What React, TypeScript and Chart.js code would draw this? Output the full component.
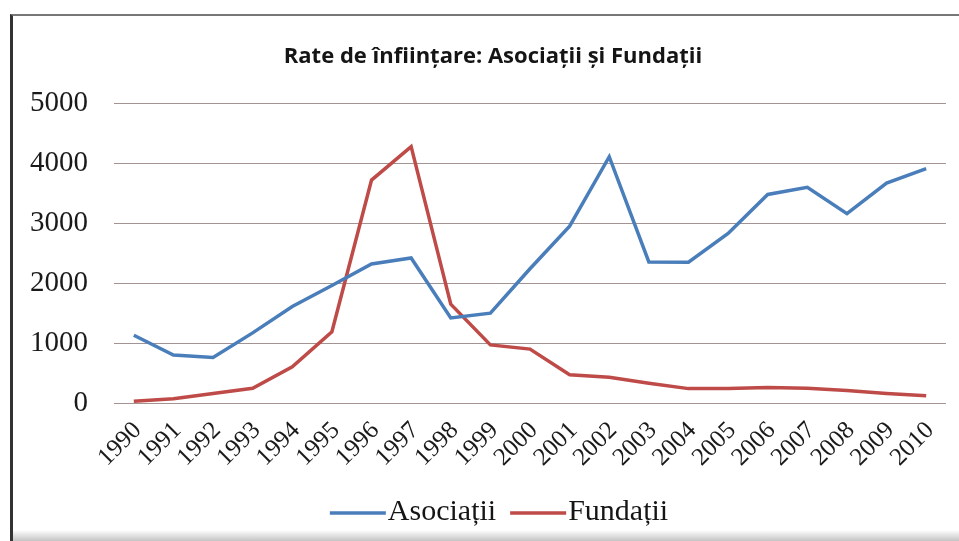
import React, { useEffect, useRef } from "react";
import { Chart, registerables } from "chart.js";

Chart.register(...registerables);

const years = [
  "1990", "1991", "1992", "1993", "1994", "1995", "1996", "1997", "1998", "1999", "2000",
  "2001", "2002", "2003", "2004", "2005", "2006", "2007", "2008", "2009", "2010",
];
const asociatii = [
  1130, 800, 760, 1170, 1610, 1960, 2320, 2420, 1420, 1500, 2240,
  2950, 4110, 2355, 2350, 2830, 3480, 3600, 3160, 3670, 3910,
];
const fundatii = [
  30, 70, 160, 245, 605, 1190, 3720, 4280, 1650, 970, 900,
  470, 430, 330, 240, 240, 260, 245, 210, 160, 120,
];
const yTicks = [0, 1000, 2000, 3000, 4000, 5000];
const titleText = "Rate de înființare: Asociații și Fundații";
const seriesNames = ["Asociații", "Fundații"];
const seriesColors = ["#4a7ebb", "#be4b48"];

const SERIF = "'Liberation Serif', 'Times New Roman', serif";

// legend drawn close to the line sample, as in the reference
const legendPlugin = {
  id: "tightLegend",
  afterDraw(chart: any) {
    const ctx = chart.ctx as CanvasRenderingContext2D;
    const datasets = chart.data.datasets;
    const lineW = 56;
    const gap = 2;
    const itemGap = 14;
    const cy = 512;
    ctx.save();
    ctx.font = `30px ${SERIF}`;
    const widths = datasets.map((d: any) => ctx.measureText(d.label).width);
    let total = 0;
    widths.forEach((w: number, i: number) => {
      total += lineW + gap + w + (i < widths.length - 1 ? itemGap : 0);
    });
    let x = 499 - total / 2;
    datasets.forEach((d: any, i: number) => {
      ctx.strokeStyle = d.borderColor;
      ctx.lineWidth = 3.5;
      ctx.beginPath();
      ctx.moveTo(x, cy + 1);
      ctx.lineTo(x + lineW, cy + 1);
      ctx.stroke();
      ctx.fillStyle = "#151515";
      ctx.textBaseline = "middle";
      ctx.textAlign = "left";
      ctx.fillText(d.label, x + lineW + gap, cy);
      x += lineW + gap + widths[i] + itemGap;
    });
    ctx.restore();
  },
};

export default function App() {
  const ref = useRef<HTMLCanvasElement | null>(null);

  useEffect(() => {
    if (!ref.current) return;
    const chart = new Chart(ref.current, {
      type: "line",
      data: {
        labels: years,
        datasets: [
          {
            label: seriesNames[0],
            data: asociatii,
            borderColor: seriesColors[0],
            backgroundColor: seriesColors[0],
            borderWidth: 3.5,
            pointRadius: 0,
            tension: 0,
          },
          {
            label: seriesNames[1],
            data: fundatii,
            borderColor: seriesColors[1],
            backgroundColor: seriesColors[1],
            borderWidth: 3.5,
            pointRadius: 0,
            tension: 0,
          },
        ],
      },
      plugins: [legendPlugin],
      options: {
        animation: false,
        responsive: true,
        maintainAspectRatio: false,
        layout: { padding: { left: 27, right: 0, top: 0, bottom: 53.5 } },
        scales: {
          x: {
            offset: true,
            grid: { display: false },
            border: { display: false },
            ticks: {
              autoSkip: false,
              minRotation: 45,
              maxRotation: 45,
              padding: 5,
              labelOffset: 4,
              color: "#1a1a1a",
              font: { family: SERIF, size: 25 },
            },
            afterFit: (axis: any) => {
              axis.height = 84.5;
            },
          },
          y: {
            min: 0,
            max: 5000,
            afterBuildTicks: (axis: any) => {
              axis.ticks = yTicks.map((v) => ({ value: v }));
            },
            grid: { color: "#a39393", drawTicks: false, lineWidth: 1 },
            border: { display: false },
            ticks: {
              padding: 26,
              color: "#1a1a1a",
              font: { family: SERIF, size: 29 },
              callback: (v: any) => String(v),
            },
            afterFit: (axis: any) => {
              axis.width = 87;
            },
          },
          // empty spacer on the right so that the title centres like the reference
          yRight: {
            position: "right",
            display: true,
            grid: { display: false },
            border: { display: false },
            ticks: { display: false },
            afterFit: (axis: any) => {
              axis.width = 13;
            },
          },
        },
        plugins: {
          title: {
            display: true,
            text: titleText,
            color: "#151515",
            font: { family: "'Open Sans'", size: 22, weight: "bold" },
            padding: { top: 44, bottom: 33 },
          },
          legend: { display: false },
          tooltip: { enabled: false },
        },
      },
    });
    return () => chart.destroy();
  }, []);

  return (
    <div style={{ position: "absolute", left: 0, top: 0, width: 959, height: 541, background: "#fff", overflow: "hidden" }}>
      <div
        style={{
          position: "absolute",
          left: 10,
          top: 14,
          width: 949,
          height: 527,
          borderLeft: "3px solid #333",
          borderTop: "2px solid #777",
          boxSizing: "border-box",
        }}
      />
      <div
        style={{
          position: "absolute",
          left: 13,
          bottom: 0,
          width: 946,
          height: 11,
          background: "linear-gradient(to bottom, #ffffff, #c4c4c4)",
        }}
      />
      <div style={{ position: "absolute", left: 0, top: 0, width: 959, height: 541 }}>
        <canvas ref={ref} />
      </div>
    </div>
  );
}
